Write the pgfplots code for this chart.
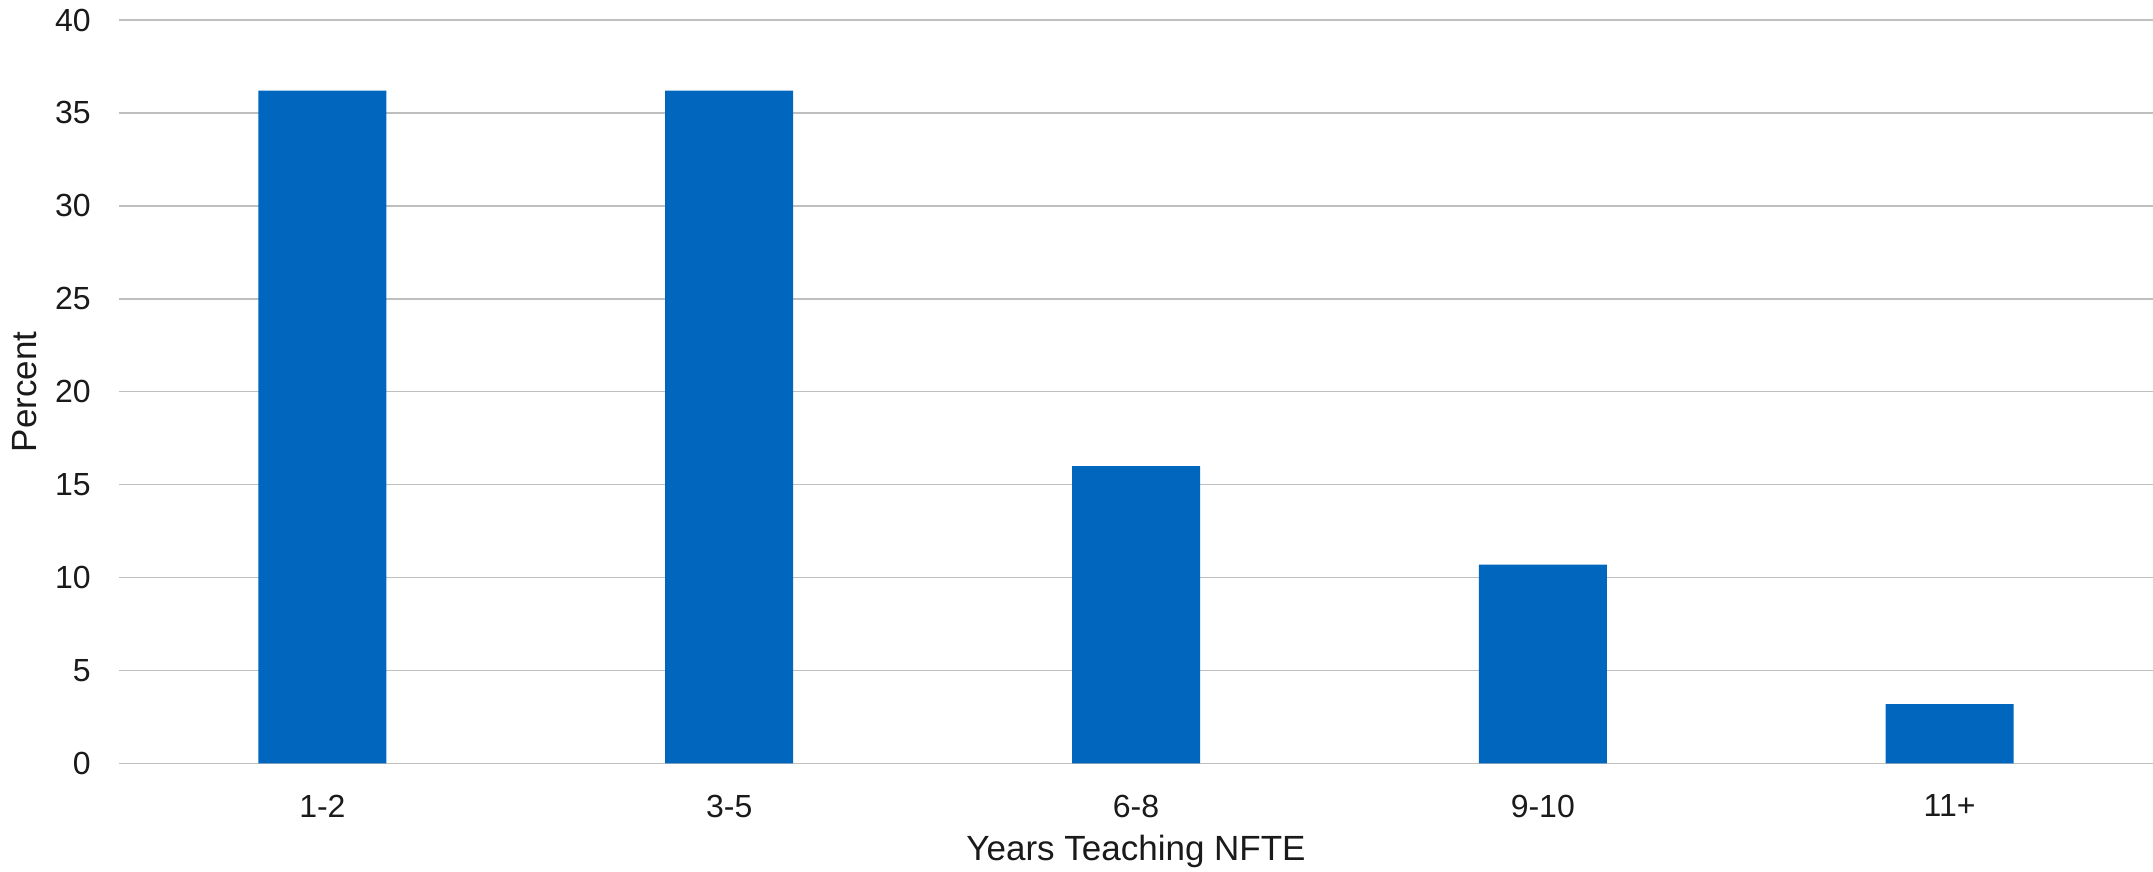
\documentclass[border=0pt]{standalone}
\usepackage{pgfplots}
\pgfplotsset{compat=1.18}
\usepackage{fontspec}
\setmainfont{Liberation Sans}
\definecolor{barblue}{RGB}{0,102,190}
\definecolor{gridgray}{RGB}{191,191,191}
\definecolor{txt}{RGB}{26,26,26}
\begin{document}
\begin{tikzpicture}
\begin{axis}[
  at={(0,0)}, anchor=south west,
  scale only axis, width=1017pt, height=371.75pt,
  xmin=-0.5, xmax=4.5, ymin=0, ymax=40,
  ytick={0,5,...,40}, xtick={0,1,2,3,4},
  xticklabels={1-2,3-5,6-8,9-10,11+},
  ymajorgrids, grid style={gridgray, line width=0.75pt},
  axis line style={draw=none}, major tick length=0pt,
  tick label style={font=\fontsize{16}{18}\selectfont, text=txt, inner sep=0pt},
  /pgf/number format/assume math mode=true,
  yticklabel style={anchor=east, xshift=-14pt},
  xticklabel style={anchor=north, yshift=-15.5pt},
  label style={font=\fontsize{17.5}{20}\selectfont, text=txt},
  xlabel={Years Teaching NFTE},
  ylabel={Percent},
  xlabel style={at={(axis description cs:0.5,0)}, anchor=center, yshift=-43.75pt},
  ylabel style={at={(axis description cs:0,0.5)}, anchor=center, yshift=47pt},
  ybar, bar width=64pt,
]
\addplot[fill=barblue, draw=none] coordinates {(0,36.2) (1,36.2) (2,16.0) (3,10.7) (4,3.2)};
\end{axis}
\pgfresetboundingbox
\path[use as bounding box] (-59.5pt,-54.25pt) rectangle (1017pt,381.75pt);
\end{tikzpicture}
\end{document}
